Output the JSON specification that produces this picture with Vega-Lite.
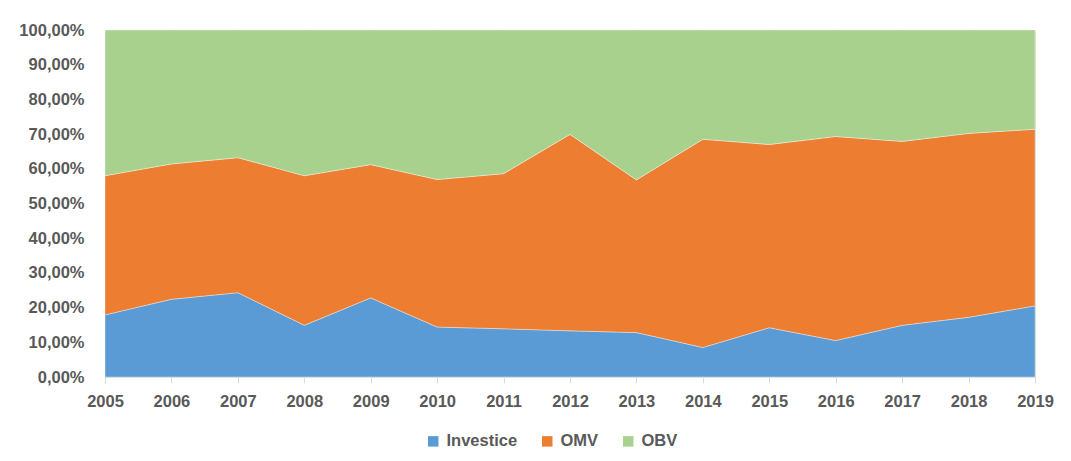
{
  "$schema": "https://vega.github.io/schema/vega-lite/v6.json",
  "autosize": {"type": "none"},
  "padding": {"left": 105, "top": 30, "right": 36, "bottom": 84},
  "width": 930,
  "height": 347,
  "background": "white",
  "config": {
    "view": {"stroke": "#d9d9d9", "strokeWidth": 1},
    "font": "Liberation Sans",
    "axis": {"labelFont": "Liberation Sans", "labelFontWeight": "bold", "labelFontSize": 16.5, "labelColor": "#595959", "grid": false, "domain": false},
    "legend": {"labelFont": "Liberation Sans", "labelFontWeight": "bold", "labelFontSize": 16.5, "labelColor": "#595959"}
  },
  "data": {
    "values": [
      {"rok": 2005, "serie": "Investice", "podil": 0.179},
      {"rok": 2005, "serie": "OMV", "podil": 0.401},
      {"rok": 2005, "serie": "OBV", "podil": 0.420},
      {"rok": 2006, "serie": "Investice", "podil": 0.224},
      {"rok": 2006, "serie": "OMV", "podil": 0.390},
      {"rok": 2006, "serie": "OBV", "podil": 0.386},
      {"rok": 2007, "serie": "Investice", "podil": 0.243},
      {"rok": 2007, "serie": "OMV", "podil": 0.389},
      {"rok": 2007, "serie": "OBV", "podil": 0.368},
      {"rok": 2008, "serie": "Investice", "podil": 0.149},
      {"rok": 2008, "serie": "OMV", "podil": 0.431},
      {"rok": 2008, "serie": "OBV", "podil": 0.420},
      {"rok": 2009, "serie": "Investice", "podil": 0.228},
      {"rok": 2009, "serie": "OMV", "podil": 0.384},
      {"rok": 2009, "serie": "OBV", "podil": 0.388},
      {"rok": 2010, "serie": "Investice", "podil": 0.144},
      {"rok": 2010, "serie": "OMV", "podil": 0.425},
      {"rok": 2010, "serie": "OBV", "podil": 0.431},
      {"rok": 2011, "serie": "Investice", "podil": 0.139},
      {"rok": 2011, "serie": "OMV", "podil": 0.447},
      {"rok": 2011, "serie": "OBV", "podil": 0.414},
      {"rok": 2012, "serie": "Investice", "podil": 0.133},
      {"rok": 2012, "serie": "OMV", "podil": 0.566},
      {"rok": 2012, "serie": "OBV", "podil": 0.301},
      {"rok": 2013, "serie": "Investice", "podil": 0.128},
      {"rok": 2013, "serie": "OMV", "podil": 0.440},
      {"rok": 2013, "serie": "OBV", "podil": 0.432},
      {"rok": 2014, "serie": "Investice", "podil": 0.085},
      {"rok": 2014, "serie": "OMV", "podil": 0.600},
      {"rok": 2014, "serie": "OBV", "podil": 0.315},
      {"rok": 2015, "serie": "Investice", "podil": 0.142},
      {"rok": 2015, "serie": "OMV", "podil": 0.528},
      {"rok": 2015, "serie": "OBV", "podil": 0.330},
      {"rok": 2016, "serie": "Investice", "podil": 0.105},
      {"rok": 2016, "serie": "OMV", "podil": 0.588},
      {"rok": 2016, "serie": "OBV", "podil": 0.307},
      {"rok": 2017, "serie": "Investice", "podil": 0.149},
      {"rok": 2017, "serie": "OMV", "podil": 0.530},
      {"rok": 2017, "serie": "OBV", "podil": 0.321},
      {"rok": 2018, "serie": "Investice", "podil": 0.172},
      {"rok": 2018, "serie": "OMV", "podil": 0.530},
      {"rok": 2018, "serie": "OBV", "podil": 0.298},
      {"rok": 2019, "serie": "Investice", "podil": 0.205},
      {"rok": 2019, "serie": "OMV", "podil": 0.509},
      {"rok": 2019, "serie": "OBV", "podil": 0.286}
    ]
  },
  "transform": [
    {"calculate": "indexof(['Investice','OMV','OBV'], datum.serie)", "as": "poradi"}
  ],
  "mark": {"type": "area", "stroke": "white", "strokeWidth": 0.6, "strokeOpacity": 0.6},
  "encoding": {
    "x": {
      "field": "rok", "type": "quantitative",
      "scale": {"domain": [2005, 2019], "nice": false, "zero": false},
      "axis": {"title": null, "values": [2005,2006,2007,2008,2009,2010,2011,2012,2013,2014,2015,2016,2017,2018,2019], "format": "d", "tickSize": 6, "tickColor": "#d9d9d9", "labelPadding": 10, "labelFlush": false, "domain": true, "domainColor": "#d9d9d9"}
    },
    "y": {
      "field": "podil", "type": "quantitative", "stack": "zero",
      "scale": {"domain": [0, 1], "nice": false},
      "axis": {"title": null, "values": [0,0.1,0.2,0.3,0.4,0.5,0.6,0.7,0.8,0.9,1], "ticks": false, "labelPadding": 21, "labelExpr": "replace(format(datum.value, '.2%'), '.', ',')"}
    },
    "color": {
      "field": "serie", "type": "nominal",
      "scale": {"domain": ["Investice", "OMV", "OBV"], "range": ["#5B9BD5", "#ED7D31", "#A9D18E"]},
      "legend": {"title": null, "orient": "none", "legendX": 320, "legendY": 403, "direction": "horizontal", "symbolType": "square", "symbolSize": 110, "symbolStrokeWidth": 0, "symbolOpacity": 1, "labelOffset": 5, "columnPadding": 21}
    },
    "order": {"field": "poradi", "type": "quantitative"}
  }
}
